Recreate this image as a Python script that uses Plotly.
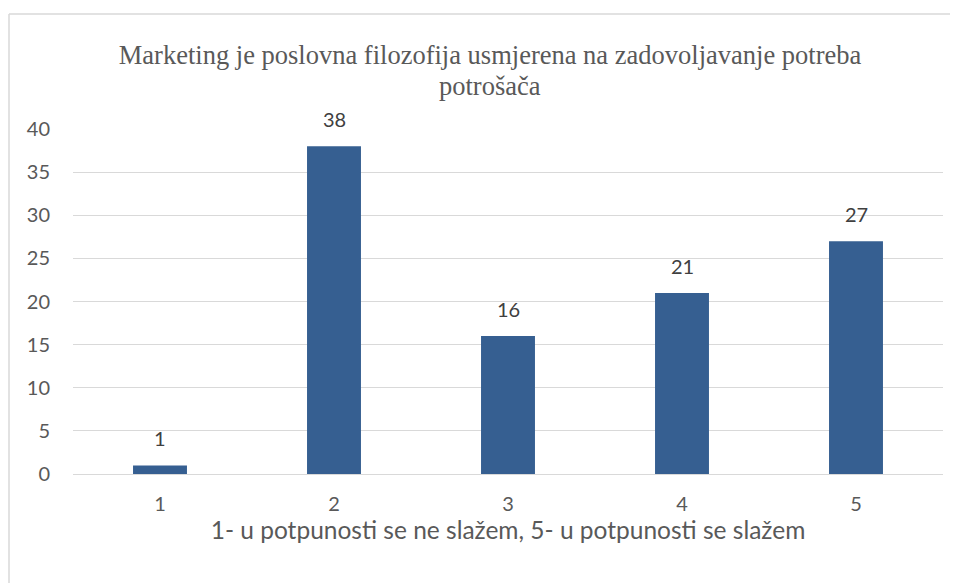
import plotly.graph_objects as go

categories = ["1", "2", "3", "4", "5"]
counts = [1, 38, 16, 21, 27]
y_ticks = [0, 5, 10, 15, 20, 25, 30, 35, 40]

title_line1 = "Marketing je poslovna filozofija usmjerena na zadovoljavanje potreba"
title_line2 = "potrošača"
x_title = "1- u potpunosti se ne slažem, 5- u potpunosti se slažem"

grey = "#595959"

# page body has an 8px margin, so the figure is drawn 8px smaller
W, H = 950, 575
L, R, T, B = 65, 15, 121, 109
pw, ph = W - L - R, H - T - B

fig = go.Figure()
fig.add_bar(x=categories, y=counts, marker=dict(color="#365F91", line=dict(width=0)))

# value labels sit well above the bars, like in Excel
for i, v in enumerate(counts):
    fig.add_annotation(x=i, y=v, text=str(v), showarrow=False, yanchor="bottom", yshift=13,
                       font=dict(family="Lato", size=20, color="#404040"))

# second title line, closer than plotly's own line spacing
fig.add_annotation(xref="paper", yref="paper", x=(482 - L) / pw, y=(H - B - 78) / ph,
                   text=title_line2, showarrow=False, xanchor="center", yanchor="middle",
                   font=dict(family="Liberation Serif", size=26.5, color=grey))

# light frame around the chart area (only top and left edges are in view)
fx0 = (1 - L) / pw
fy1 = (H - B - 6) / ph
fig.add_shape(type="line", xref="paper", yref="paper", x0=fx0, x1=(W - L) / pw, y0=fy1, y1=fy1,
              line=dict(color="#d9d9d9", width=1.5), layer="below")
fig.add_shape(type="line", xref="paper", yref="paper", x0=fx0, x1=fx0, y0=-B / ph, y1=fy1,
              line=dict(color="#d9d9d9", width=1.5), layer="below")

fig.update_layout(
    width=W, height=H,
    margin=dict(l=L, r=R, t=T, b=B),
    paper_bgcolor="white", plot_bgcolor="white",
    bargap=0.69,
    showlegend=False,
    title=dict(text=title_line1, x=482 / W, xanchor="center", y=1 - 47 / H, yanchor="middle",
               font=dict(family="Liberation Serif", size=26.5, color=grey)),
    font=dict(family="Lato", color=grey),
)
fig.update_xaxes(type="category", showgrid=False, showline=False,
                 ticks="outside", ticklen=12, tickcolor="rgba(0,0,0,0)",
                 tickfont=dict(size=20, color=grey),
                 title=dict(text=x_title, font=dict(size=24.5, color=grey), standoff=3))
fig.update_yaxes(range=[0, 40], tickvals=y_ticks, showgrid=True, gridcolor="#d9d9d9", gridwidth=1,
                 zeroline=True, zerolinecolor="#d9d9d9", zerolinewidth=1,
                 ticks="outside", ticklen=18, tickcolor="rgba(0,0,0,0)",
                 tickfont=dict(size=20, color=grey))

fig.write_html("out.html")
